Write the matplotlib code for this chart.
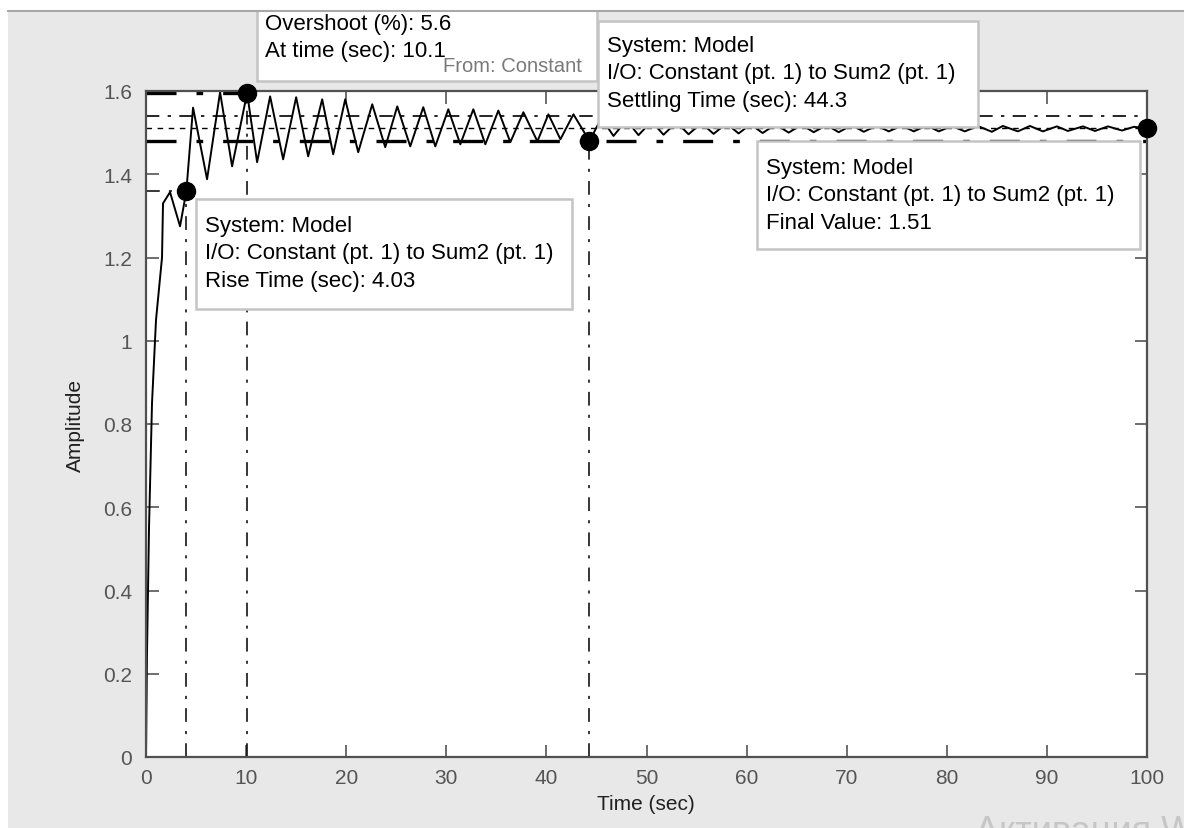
import matplotlib
matplotlib.use("Agg")
import matplotlib.pyplot as plt
from matplotlib.patches import Rectangle
from matplotlib.lines import Line2D

# step response (mostly peaks and troughs)
time = [0, 0.1, 0.3, 0.6, 1.0, 1.4, 1.6, 1.7, 2.4, 3.4, 4.03, 4.7,
        6.1, 7.4, 8.6, 10.1, 11.1, 12.4, 13.7, 15.0, 16.2, 17.6, 18.7,
        19.9, 21.2, 22.6, 23.9, 25.1, 26.4, 27.7, 28.9, 30.2, 31.4, 32.7,
        33.9, 35.2, 36.4, 37.7, 39.1, 40.2, 41.4, 42.7, 44.3, 45.5, 46.7,
        48.0, 49.2, 50.5, 51.7, 53.0, 54.2, 55.5, 56.7, 58.0, 59.2, 60.4,
        61.6, 62.9, 64.2, 65.5, 66.7, 68.0, 69.2, 70.5, 71.7, 73.0, 74.2,
        75.5, 76.7, 78.0, 79.2, 80.5, 81.8, 83.1, 84.5, 85.6, 87.1, 88.3,
        89.6, 91.0, 92.1, 93.6, 94.8, 96.1, 97.5, 98.7, 100]
amplitude = [0, 0.25, 0.55, 0.85, 1.05, 1.15, 1.2, 1.33, 1.357, 1.275, 1.359, 1.56,
             1.388, 1.597, 1.419, 1.595, 1.429, 1.587, 1.436, 1.585, 1.443, 1.58, 1.448,
             1.58, 1.453, 1.568, 1.465, 1.563, 1.467, 1.561, 1.467, 1.556, 1.472, 1.556,
             1.472, 1.553, 1.477, 1.549, 1.479, 1.544, 1.484, 1.544, 1.48, 1.535, 1.492,
             1.53, 1.494, 1.527, 1.495, 1.525, 1.496, 1.523, 1.497, 1.522, 1.498, 1.52,
             1.499, 1.52, 1.5, 1.519, 1.501, 1.518, 1.501, 1.518, 1.502, 1.517, 1.503,
             1.517, 1.503, 1.517, 1.503, 1.516, 1.503, 1.516, 1.502, 1.516, 1.503, 1.516,
             1.503, 1.515, 1.504, 1.515, 1.504, 1.515, 1.505, 1.514, 1.51]

# characteristic points: rise time, peak, settling time, final value
char_t = [4.03, 10.1, 44.3, 100]
char_y = [1.359, 1.595, 1.48, 1.51]
final_value = 1.51
settle_band = [1.48, 1.54]

xticks = [0, 10, 20, 30, 40, 50, 60, 70, 80, 90, 100]
yticks = [0, 0.2, 0.4, 0.6, 0.8, 1.0, 1.2, 1.4, 1.6]
ytick_labels = ["0", "0.2", "0.4", "0.6", "0.8", "1", "1.2", "1.4", "1.6"]

W, H = 1184, 829
FONT = "Liberation Sans"


def fx(x):
    return x / W


def fy(y):
    return 1 - y / H


fig = plt.figure(figsize=(W / 100, H / 100), dpi=100, facecolor="white")

# grey window behind the axes
fig.add_artist(Rectangle((fx(8), 0), 1 - fx(8), fy(12), transform=fig.transFigure,
                         fc="#e8e8e8", ec="none", zorder=-10))

ax = fig.add_axes([fx(146), fy(758), fx(1147) - fx(146), fy(92) - fy(758)])
ax.set_facecolor("white")
ax.set_xlim(0, 100)
ax.set_ylim(0, 1.6)
ax.set_xticks(xticks)
ax.set_yticks(yticks)
ax.set_yticklabels(ytick_labels)
ax.tick_params(direction="in", length=9, width=1.2, color="#555555",
               labelcolor="#555555", labelsize=15, top=True, right=True)
ax.tick_params(axis="x", pad=8)
ax.tick_params(axis="y", pad=10)
for lab in ax.get_xticklabels() + ax.get_yticklabels():
    lab.set_fontfamily(FONT)
for sp in ax.spines.values():
    sp.set_color("#505050")
    sp.set_linewidth(1.6)

dashdot = (0, (9, 6, 2, 6))
# characteristic guide lines
ax.plot([0, char_t[1]], [char_y[1], char_y[1]], color="black", lw=2.4, ls=dashdot, clip_on=False)
ax.plot([char_t[1], char_t[1]], [0, char_y[1]], color="black", lw=1.1, ls=dashdot)
ax.plot([0, char_t[0]], [char_y[0], char_y[0]], color="black", lw=1.1, ls=dashdot)
ax.plot([char_t[0], char_t[0]], [0, char_y[0]], color="black", lw=1.1, ls=dashdot)
ax.plot([char_t[2], char_t[2]], [0, char_y[2]], color="black", lw=1.1, ls=dashdot)
ax.plot([0, 100], [settle_band[1]] * 2, color="black", lw=1.2, ls=(0, (8, 5, 2, 5)))
ax.plot([0, 100], [final_value] * 2, color="black", lw=1.0, ls=(0, (4, 4)))
ax.plot([0, 100], [settle_band[0]] * 2, color="black", lw=2.4, ls=dashdot)

ax.plot(time, amplitude, color="black", lw=1.4)
ax.plot(char_t, char_y, "o", color="black", ms=13, clip_on=False, zorder=5)

fig.text(fx(646), fy(805), "Time (sec)", ha="center", va="center",
         fontsize=15, family=FONT, color="#202020")
fig.text(fx(75), fy(425), "Amplitude", ha="center", va="center", rotation=90,
         fontsize=15, family=FONT, color="#202020")


def tip(x0, y0, x1, y1, lines, z, text_x, text_y):
    fig.add_artist(Rectangle((fx(x0), fy(y1)), fx(x1) - fx(x0), fy(y0) - fy(y1),
                             transform=fig.transFigure, fc="white", ec="#c4c4c4",
                             lw=1.8, zorder=z))
    fig.text(fx(text_x), fy(text_y), "\n".join(lines), ha="left", va="center",
             fontsize=16, family=FONT, color="black", linespacing=1.4, zorder=z + 0.5)


tip(257, -40, 597, 82, ["Overshoot (%): 5.6", "At time (sec): 10.1"], 4, 265, 38)
fig.text(fx(443), fy(67), "From: Constant", ha="left", va="center",
         fontsize=14.5, family=FONT, color="#7a7a7a", zorder=5)
tip(598, 22, 978, 128, ["System: Model", "I/O: Constant (pt. 1) to Sum2 (pt. 1)",
                        "Settling Time (sec): 44.3"], 6, 607, 74)
tip(757, 142, 1140, 250, ["System: Model", "I/O: Constant (pt. 1) to Sum2 (pt. 1)",
                          "Final Value: 1.51"], 6, 766, 196)
tip(196, 200, 572, 310, ["System: Model", "I/O: Constant (pt. 1) to Sum2 (pt. 1)",
                         "Rise Time (sec): 4.03"], 6, 205, 254)

# strip above the window and its border line
fig.add_artist(Rectangle((0, fy(12)), 1, 1 - fy(12), transform=fig.transFigure,
                         fc="white", ec="none", zorder=20))
fig.add_artist(Rectangle((0, 0), fx(8), 1, transform=fig.transFigure,
                         fc="white", ec="none", zorder=20))
fig.add_artist(Line2D([fx(8), 1], [fy(12), fy(12)], transform=fig.transFigure,
                      color="#a8a8a8", lw=1.5, zorder=21))

fig.text(fx(975), fy(842), "Активация W", ha="left", va="baseline",
         fontsize=26, family=FONT, color="#c6c6c6", zorder=21)

fig.savefig("out.png", dpi=100)
